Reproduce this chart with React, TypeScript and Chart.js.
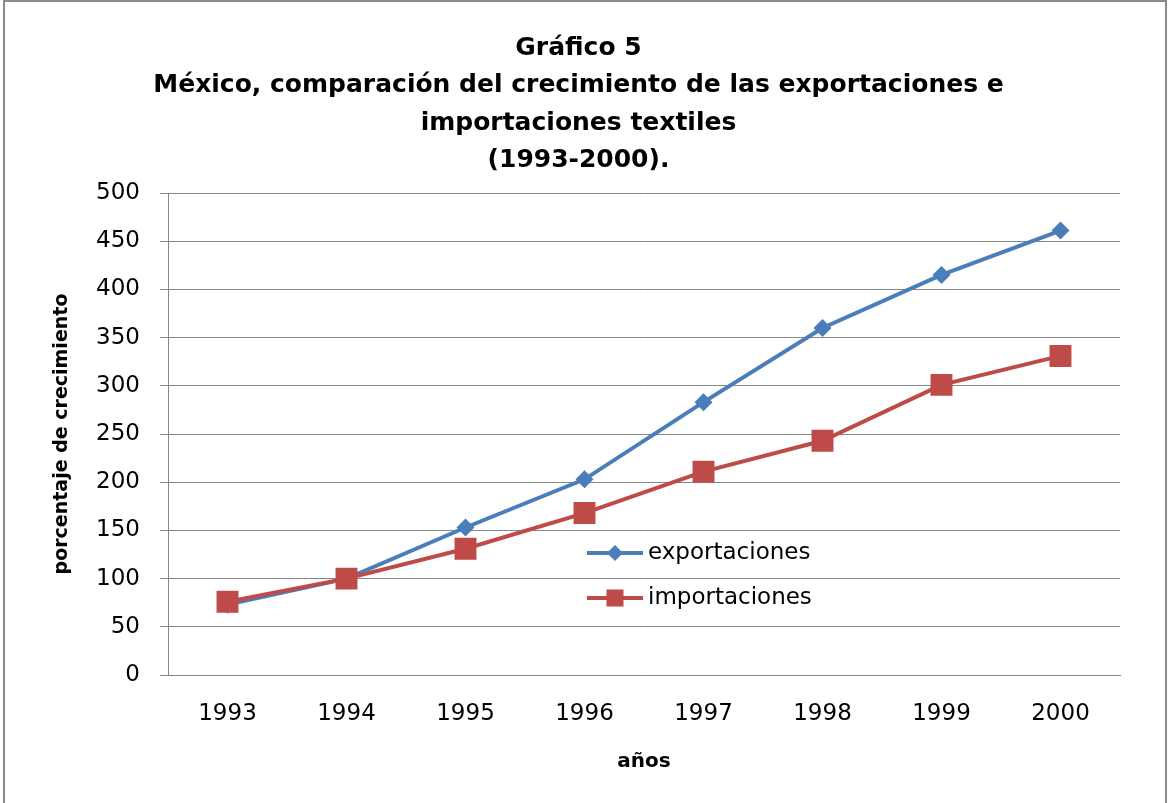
import React, { useEffect, useRef } from "react";
import { Chart, registerables } from "chart.js";

Chart.register(...registerables);

const years = ["1993", "1994", "1995", "1996", "1997", "1998", "1999", "2000"];
const exportaciones = [73, 100, 153, 203, 283, 360, 415, 461];
const importaciones = [76, 100, 131, 168, 211, 243, 301, 331];
const titleLines = [
  "Gráfico 5",
  "México, comparación del crecimiento de las exportaciones e",
  "importaciones textiles",
  "(1993-2000).",
];
const yTitle = "porcentaje de crecimiento";
const xTitle = "años";

const FONT = "'DejaVu Sans', sans-serif";
const GRID = "#868686";
const BLUE = "#4a7ebb";
const RED = "#be4b48";

const borderPlugin = {
  id: "pageBorder",
  beforeDraw(chart: any) {
    const ctx = chart.ctx;
    ctx.save();
    ctx.strokeStyle = "#8a8a8a";
    ctx.lineWidth = 2;
    ctx.strokeRect(4, 1, 1162, 900);
    ctx.restore();
  },
};

const legendPlugin = {
  id: "innerLegend",
  afterDraw(chart: any) {
    const ctx = chart.ctx;
    const area = chart.chartArea;
    const x0 = area.left + 419;
    const rowY = [area.top + 360, area.top + 405];
    ctx.save();
    chart.data.datasets.forEach((ds: any, i: number) => {
      const y = rowY[i];
      ctx.strokeStyle = ds.borderColor;
      ctx.lineWidth = 4;
      ctx.beginPath();
      ctx.moveTo(x0, y);
      ctx.lineTo(x0 + 56, y);
      ctx.stroke();
      ctx.fillStyle = ds.backgroundColor;
      const cx = x0 + 28;
      if (ds.pointStyle === "rectRot") {
        const r = 8;
        ctx.beginPath();
        ctx.moveTo(cx, y - r);
        ctx.lineTo(cx + r, y);
        ctx.lineTo(cx, y + r);
        ctx.lineTo(cx - r, y);
        ctx.closePath();
        ctx.fill();
      } else {
        const s = 17;
        ctx.fillRect(cx - s / 2, y - s / 2, s, s);
      }
      ctx.fillStyle = "#000";
      ctx.font = `23px ${FONT}`;
      ctx.textBaseline = "middle";
      ctx.textAlign = "left";
      ctx.fillText(ds.label, x0 + 61, y);
    });
    ctx.restore();
  },
};

export default function App() {
  const ref = useRef<HTMLCanvasElement | null>(null);

  useEffect(() => {
    if (!ref.current) return;
    Chart.defaults.font.family = FONT;
    const chart = new Chart(ref.current, {
      type: "line",
      data: {
        labels: years,
        datasets: [
          {
            label: "exportaciones",
            data: exportaciones,
            borderColor: BLUE,
            backgroundColor: BLUE,
            borderWidth: 4,
            pointStyle: "rectRot",
            pointRadius: 9,
            pointBorderWidth: 0,
            tension: 0,
            order: 1,
          },
          {
            label: "importaciones",
            data: importaciones,
            borderColor: RED,
            backgroundColor: RED,
            borderWidth: 4,
            pointStyle: "rect",
            pointRadius: 15.5,
            pointBorderWidth: 0,
            tension: 0,
            order: 0,
          },
        ],
      },
      options: {
        responsive: false,
        animation: false,
        layout: { padding: { left: 37, right: 51, top: 0, bottom: 0 } },
        plugins: {
          legend: { display: false },
          tooltip: { enabled: false },
          title: {
            display: true,
            text: titleLines,
            color: "#000",
            font: { family: FONT, size: 25, weight: "bold", lineHeight: 1.5 },
            padding: { top: 29.25, bottom: 13.75 },
          },
        },
        scales: {
          x: {
            offset: true,
            grid: { display: false, drawTicks: false, tickLength: 0 },
            border: { display: true, color: GRID, width: 1 },
            ticks: { color: "#000", font: { family: FONT, size: 23 }, padding: 25, maxRotation: 0 },
            title: {
              display: true,
              text: xTitle,
              color: "#000",
              font: { family: FONT, size: 20, weight: "bold" },
              padding: { top: 0, bottom: 29 },
            },
            afterFit(scale: any) {
              scale.height = 128;
            },
          },
          y: {
            min: 0,
            max: 500,
            ticks: { stepSize: 50, color: "#000", font: { family: FONT, size: 23 }, padding: 20 },
            grid: { color: GRID, lineWidth: 1, drawTicks: true, tickLength: 8 },
            border: { display: true, color: GRID, width: 1 },
            title: {
              display: true,
              text: yTitle,
              color: "#000",
              font: { family: FONT, size: 19, weight: "bold" },
              padding: { top: 14, bottom: 0 },
            },
            afterFit(scale: any) {
              scale.width = 131;
            },
          },
        },
      },
      plugins: [borderPlugin, legendPlugin],
    } as any);
    return () => chart.destroy();
  }, []);

  return (
    <div style={{ position: "absolute", left: 0, top: 0, width: 1171, height: 803, background: "#fff" }}>
      <canvas ref={ref} width={1171} height={803} style={{ display: "block" }} />
    </div>
  );
}
